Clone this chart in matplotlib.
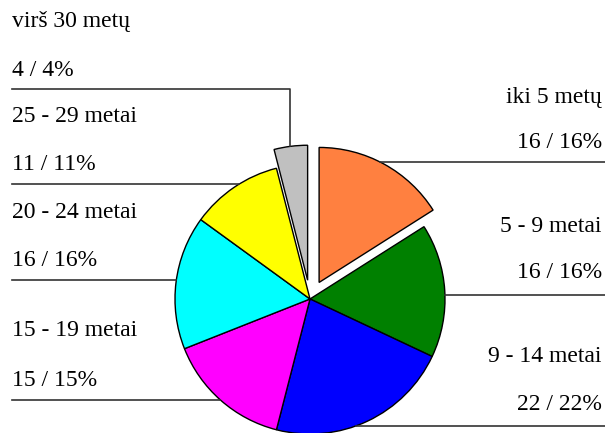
import numpy as np
import matplotlib.pyplot as plt

plt.rcParams['font.family'] = ['Liberation Serif', 'DejaVu Serif']

# chart data
labels = ["iki 5 metų", "5 - 9 metai", "9 - 14 metai", "15 - 19 metai",
          "20 - 24 metai", "25 - 29 metai", "virš 30 metų"]
counts = [16, 16, 22, 15, 16, 11, 4]
percents = [16, 16, 22, 15, 16, 11, 4]
colors = ["#FF8040", "#008000", "#0000FF", "#FF00FF", "#00FFFF", "#FFFF00", "#C0C0C0"]
explode_frac = [0.14, 0, 0, 0, 0, 0, 0.14]

W, H = 605, 433
fig = plt.figure(figsize=(W / 100, H / 100), dpi=100)
ax = fig.add_axes([0, 0, 1, 1])

cx, cy, r = 310, H - 299, 135
# pie's explode is an absolute offset when drawing in pixel-sized units
wedges, _ = ax.pie(counts, colors=colors, explode=[e * r for e in explode_frac],
                   startangle=90, counterclock=False, center=(cx, cy), radius=r,
                   frame=True, wedgeprops=dict(edgecolor="black", linewidth=1))
ax.set_xlim(0, W)
ax.set_ylim(0, H)
ax.set_aspect("equal")
ax.axis("off")

# label layout (pixel rows from top): name row, value row, leader row, side
layout = [(97, 142, 162, "right"), (227, 273, 295, "right"), (357, 405, 426, "right"),
          (330, 380, 400, "left"), (213, 261, 280, "left"), (117, 165, 184, "left"),
          (22, 70, 89, "left")]

fs = 17
for i, w in enumerate(wedges):
    yn, yv, yl, side = layout[i]
    ox, oy = w.center
    if side == "right":
        tx, ha = W - 3, "right"
    else:
        tx, ha = 12, "left"
    ax.text(tx, H - yn, labels[i], ha=ha, va="center", fontsize=fs)
    ax.text(tx, H - yv, f"{counts[i]} / {percents[i]}%", ha=ha, va="center", fontsize=fs)
    ly = H - yl
    if i == len(wedges) - 1:
        # small slice: leader goes across then down to the wedge top
        vx = 290
        top = oy + np.sqrt(r ** 2 - (vx - ox) ** 2)
        ax.plot([12, vx, vx], [ly, ly, top], color="#333333", lw=1.2)
        continue
    dx = np.sqrt(max(r ** 2 - (ly - oy) ** 2, 0))
    if side == "right":
        ax.plot([ox + dx, W], [ly, ly], color="#333333", lw=1.2)
    else:
        ax.plot([12, ox - dx], [ly, ly], color="#333333", lw=1.2)

plt.savefig("out.png", dpi=100)
